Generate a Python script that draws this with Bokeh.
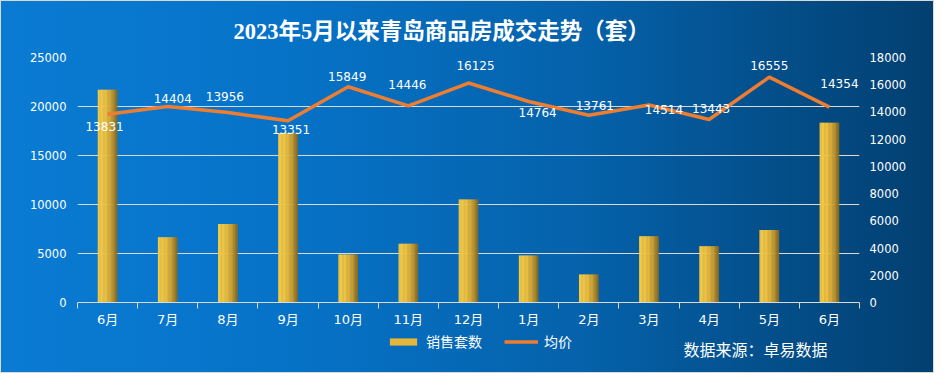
from bokeh.plotting import figure
from bokeh.layouts import column
from bokeh.models import (Range1d, LinearAxis, FixedTicker, Legend, LegendItem, Label,
                          ColumnDataSource, Grid, NumeralTickFormatter, Title)
from bokeh.transform import dodge
from bokeh.core.properties import value
from bokeh.embed import file_html
from bokeh.resources import INLINE

# ---- data ----
months = ["6月", "7月", "8月", "9月", "10月", "11月", "12月", "1月", "2月", "3月", "4月", "5月", "6月"]
sales = [21700, 6650, 8000, 17300, 4900, 6000, 10500, 4800, 2850, 6750, 5750, 7400, 18350]
price = [13831, 14404, 13956, 13351, 15849, 14446, 16125, 14764, 13761, 14514, 13443, 16555, 14354]
left_ticks = [0, 5000, 10000, 15000, 20000, 25000]
right_ticks = [0, 2000, 4000, 6000, 8000, 10000, 12000, 14000, 16000, 18000]
# label nudges (screen px) for the price labels
label_dx = [-3, 5, -3, 3, -1, -1, 7, 9, 6, 15, 2, 0, 10]
label_dy = [12, -8, -16, 9, -10, -21, -18, 11, -10, 5, -11, -12, -24]

xs = [i + 0.5 for i in range(len(months))]
src = ColumnDataSource(dict(x=xs, sales=sales, price=price, label=[str(v) for v in price],
                            dx=label_dx, dy=label_dy))

WHITE = "#ffffff"
GRID = "#d9d9d9"
CJK = "DejaVu Sans, Noto Sans CJK SC"
W = 934
FL, FR = 77, 75   # frame borders

p = figure(width=W, height=330, output_backend="svg", toolbar_location=None,
           x_range=Range1d(0, len(months)), y_range=Range1d(0, 25000),
           x_axis_type=None, y_axis_type=None,
           min_border_left=FL, min_border_right=FR, min_border_top=57, min_border_bottom=28)
p.extra_y_ranges = {"price": Range1d(0, 18000)}
p.border_fill_color = None
p.background_fill_color = None
p.outline_line_color = None

p.title = Title(text="2023年5月以来青岛商品房成交走势（套）", align="left", offset=156,
                standoff=28, text_font_size="22.5px", text_font_style="bold", text_color=WHITE,
                text_font="Liberation Serif, Noto Sans CJK SC")

# axes
yl = LinearAxis(ticker=FixedTicker(ticks=left_ticks), formatter=NumeralTickFormatter(format="0"),
                axis_line_color=None, major_tick_line_color=None, minor_tick_line_color=None,
                major_tick_out=0, major_tick_in=0, minor_tick_out=0, minor_tick_in=0,
                major_label_text_color=WHITE, major_label_text_font_size="11.5px",
                major_label_text_font="DejaVu Sans", major_label_standoff=11)
p.add_layout(yl, "left")
yr = LinearAxis(y_range_name="price", ticker=FixedTicker(ticks=right_ticks),
                formatter=NumeralTickFormatter(format="0"),
                axis_line_color=None, major_tick_line_color=None, minor_tick_line_color=None,
                major_tick_out=0, major_tick_in=0, minor_tick_out=0, minor_tick_in=0,
                major_label_text_color=WHITE, major_label_text_font_size="11.5px",
                major_label_text_font="DejaVu Sans", major_label_standoff=10)
p.add_layout(yr, "right")
xa = LinearAxis(ticker=FixedTicker(ticks=xs, minor_ticks=list(range(len(months) + 1))),
                major_label_overrides={x: m for x, m in zip(xs, months)},
                axis_line_color=GRID, major_tick_line_color=None, major_tick_out=6, major_tick_in=0,
                minor_tick_line_color=GRID, minor_tick_out=6, minor_tick_in=0,
                major_label_text_color=WHITE, major_label_text_font_size="13px",
                major_label_text_font=CJK, major_label_standoff=3)
p.add_layout(xa, "below")
p.add_layout(Grid(dimension=1, ticker=yl.ticker, grid_line_color=GRID, grid_line_width=1))

# bars with horizontal gold gradient
def hexc(c):
    return tuple(int(c[i:i + 2], 16) for i in (1, 3, 5))

stops = [(0.0, hexc("#f7cb45")), (0.4, hexc("#efc03f")), (0.72, hexc("#c99e32")), (1.0, hexc("#86671f"))]

def grad(t):
    for (t0, c0), (t1, c1) in zip(stops[:-1], stops[1:]):
        if t <= t1:
            f = (t - t0) / (t1 - t0)
            return "#%02x%02x%02x" % tuple(int(round(a + (b - a) * f)) for a, b in zip(c0, c1))
    return "#%02x%02x%02x" % stops[-1][1]

BW = 0.32
N = 24
for k in range(N):
    t = (k + 0.5) / N
    off = -BW / 2 + (k + 0.5) * BW / N
    p.vbar(x=dodge("x", off, range=p.x_range), top="sales", bottom=0, width=BW / N * 1.5,
           source=src, fill_color=grad(t), line_color=None)

# line
p.line("x", "price", source=src, y_range_name="price", line_color="#ed7d31", line_width=3.5)

p.text(x="x", y="price", text="label", x_offset="dx", y_offset="dy", source=src, y_range_name="price",
       text_color=WHITE, text_font_size="12px", text_font=value("DejaVu Sans"),
       text_align="center", text_baseline="middle")

# ---- bottom strip: legend + source ----
p2 = figure(width=W, height=43, output_backend="svg", toolbar_location=None,
            x_range=Range1d(0, 1), y_range=Range1d(0, 1), x_axis_type=None, y_axis_type=None,
            min_border_left=0, min_border_right=0, min_border_top=0, min_border_bottom=0)
p2.border_fill_color = None
p2.background_fill_color = None
p2.outline_line_color = None
p2.xgrid.visible = False
p2.ygrid.visible = False
# legend-only swatches (zero-size marks, just so the legend has glyphs to draw)
sw = p2.vbar(x=[0.5], top=[0], bottom=[0], width=0, fill_color="#e6b63c", line_color=None)
ln = p2.line(x=[0.5], y=[0], line_color="#ed7d31", line_width=3.5)
legend = Legend(items=[LegendItem(label="销售套数", renderers=[sw]),
                       LegendItem(label="均价", renderers=[ln])],
                location=(386 - FL, 22), orientation="horizontal",
                glyph_width=34, glyph_height=9, label_height=16, label_standoff=6, spacing=22,
                padding=0, margin=0, border_line_color=None, background_fill_alpha=0,
                label_text_color=WHITE, label_text_font_size="14px", label_text_font="Noto Sans CJK SC")
p2.add_layout(legend)
p2.add_layout(Label(x=683 - FL, y=25, x_units="screen", y_units="screen",
                    text="数据来源：卓易数据", text_align="left", text_baseline="middle",
                    text_font_size="16px", text_color=WHITE, text_font="Noto Sans CJK SC"))

layout = column(p, p2, spacing=0,
                styles={"background-image": "linear-gradient(90deg, #0a7bd3 0%, #0673c8 30%, #0562ab 62%, #034a82 88%, #033f70 100%)",
                        "outline": "1px solid #d9d9d9", "outline-offset": "-1px"})

open("out.html", "w").write(file_html(layout, INLINE))
